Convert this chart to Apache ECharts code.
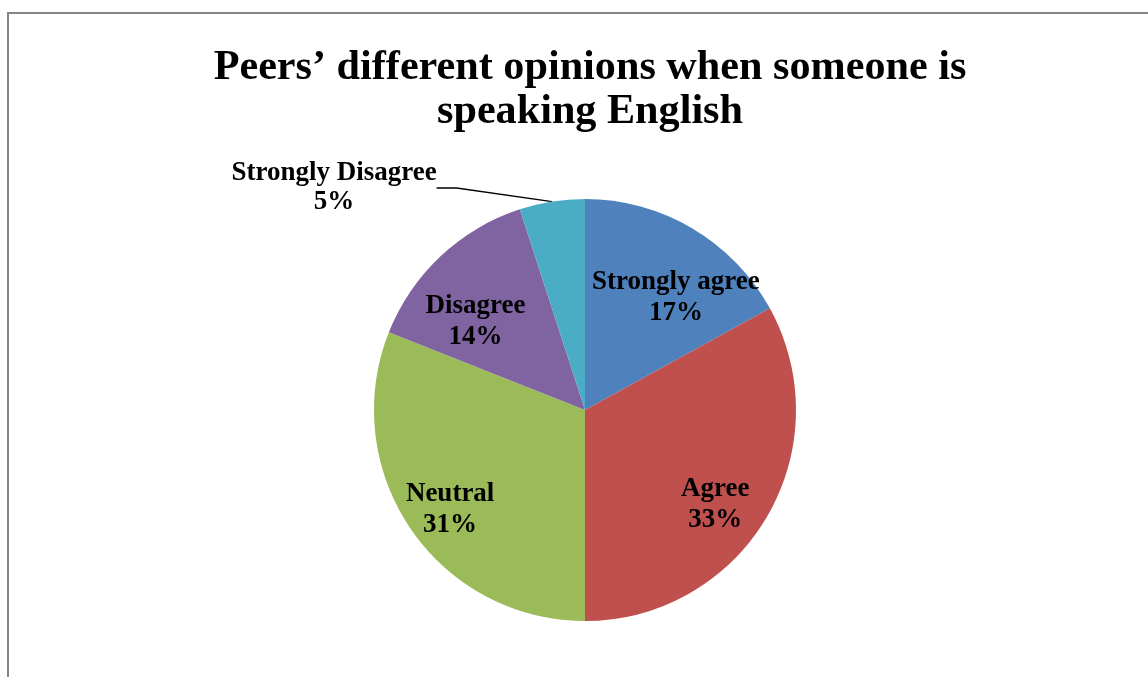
<!DOCTYPE html>
<html>
<head>
<meta charset="utf-8">
<script src="https://cdn.jsdelivr.net/npm/echarts@6/dist/echarts.min.js"></script>
<style>
  html, body { margin: 0; padding: 0; background: #fff; }
  #chart { width: 1148px; height: 677px; }
</style>
</head>
<body>
<div id="chart"></div>
<script>
// Survey responses (percent of respondents)
const categories = ['Strongly agree', 'Agree', 'Neutral', 'Disagree', 'Strongly Disagree'];
const values = [17, 33, 31, 14, 5];
const colors = ['#4F81BD', '#C0504D', '#9BBB59', '#8064A2', '#4BACC6'];
const titleText = 'Peers\u2019 different opinions when someone is\nspeaking English';

const FONT = '"Times New Roman", "Liberation Serif", "DejaVu Serif", serif';
const OUTSIDE_INDEX = 4; // the thin slice gets its label outside with a leader line

// small nudges for the in-slice labels (pixels)
const labelNudge = [[11, 23], [-5, 15], [-5, 11], [-2, 26], [0, 0]];

const pieData = categories.map((name, i) => ({
  name,
  value: values[i],
  itemStyle: { color: colors[i] }
}));

const CENTER = [585, 410];
const RADIUS = 211;

const chart = echarts.init(document.getElementById('chart'), null, { renderer: 'canvas' });

chart.setOption({
  backgroundColor: '#ffffff',
  animation: false,
  title: {
    text: titleText,
    left: 585,
    textAlign: 'center',
    top: 41,
    textStyle: {
      fontFamily: FONT,
      fontWeight: 'bold',
      fontSize: 42.2,
      lineHeight: 44,
      color: '#000'
    }
  },
  graphic: [{
    type: 'rect',
    shape: { x: 8, y: 13, width: 1300, height: 800 },
    style: { fill: 'none', stroke: '#868686', lineWidth: 2 },
    silent: true,
    z: 100
  }],
  series: [
    {
      // visible slices; only the thin slice is labelled here (outside)
      type: 'pie',
      center: CENTER,
      radius: RADIUS,
      startAngle: 90,
      clockwise: true,
      silent: true,
      emphasis: { disabled: true },
      itemStyle: { borderWidth: 0 },
      data: pieData.map((d, i) => Object.assign({}, d, {
        label: { show: i === OUTSIDE_INDEX },
        labelLine: { show: i === OUTSIDE_INDEX }
      })),
      label: {
        position: 'outside',
        formatter: '{b}\n{c}%',
        fontFamily: FONT,
        fontWeight: 'bold',
        fontSize: 27,
        lineHeight: 29,
        color: '#000',
        align: 'center'
      },
      labelLine: {
        length: 10,
        length2: 20,
        lineStyle: { color: '#000', width: 1.4 }
      },
      labelLayout: function (p) {
        if (p.dataIndex !== OUTSIDE_INDEX) return {};
        return { x: 334, y: 188, align: 'center', verticalAlign: 'middle' };
      }
    },
    {
      // transparent ring used only to place the in-slice labels further out
      type: 'pie',
      center: CENTER,
      radius: [RADIUS * 0.46, RADIUS],
      startAngle: 90,
      clockwise: true,
      silent: true,
      emphasis: { disabled: true },
      itemStyle: { color: 'rgba(0,0,0,0)' },
      data: pieData.map((d, i) => ({
        name: d.name,
        value: d.value,
        itemStyle: { color: 'rgba(0,0,0,0)' },
        label: { show: i !== OUTSIDE_INDEX }
      })),
      label: {
        position: 'inside',
        formatter: '{b}\n{c}%',
        fontFamily: FONT,
        fontWeight: 'bold',
        fontSize: 27,
        lineHeight: 31,
        color: '#000'
      },
      labelLine: { show: false },
      labelLayout: function (p) {
        const n = labelNudge[p.dataIndex] || [0, 0];
        return { dx: n[0], dy: n[1] };
      }
    }
  ]
});
</script>
</body>
</html>
